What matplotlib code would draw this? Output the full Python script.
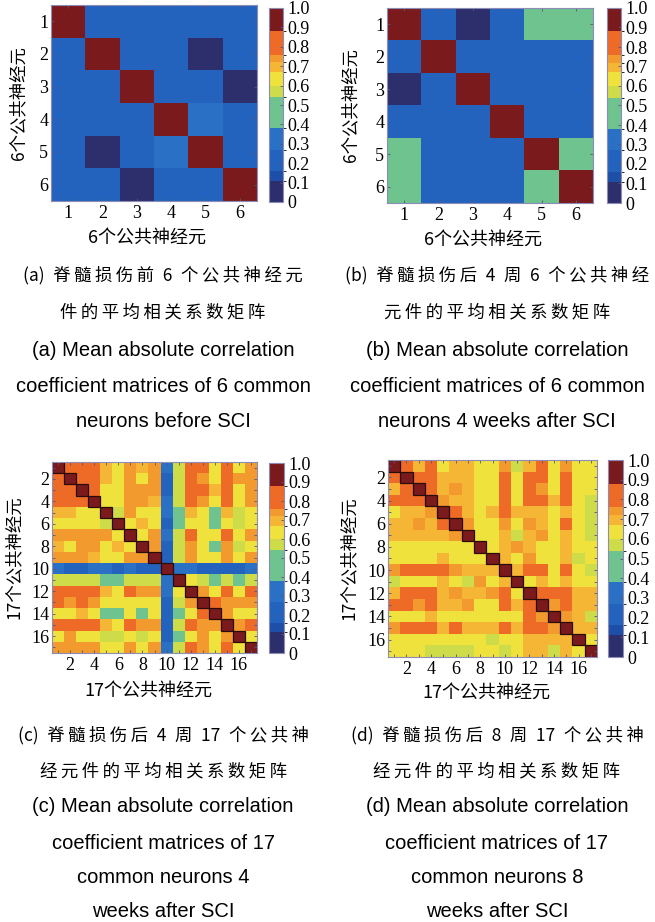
import matplotlib
matplotlib.use('Agg')
import matplotlib.pyplot as plt
import numpy as np
from matplotlib.colors import ListedColormap, BoundaryNorm
from matplotlib.patches import Rectangle
from matplotlib import font_manager

# 色阶 (MATLAB jet 风格的分段色条)
bounds = [0, 0.11, 0.16, 0.27, 0.38, 0.54, 0.60, 0.67, 0.72, 0.76, 0.88, 1.0]
colors = ['#2c2f6c', '#1d4fa8', '#2463bd', '#2a70c4', '#6ec38e', '#cfdc4a',
          '#efe23c', '#f5b535', '#f39a2e', '#ee6a27', '#7b1a1c']
cbar_ticks = [0, 0.1, 0.2, 0.3, 0.4, 0.5, 0.6, 0.7, 0.8, 0.9, 1.0]
cbar_labels = ['0', '0.1', '0.2', '0.3', '0.4', '0.5', '0.6', '0.7', '0.8', '0.9', '1.0']

# (a) 损伤前 6 个神经元
mat_a = [
    [1.0, 0.2, 0.2, 0.2, 0.2, 0.2],
    [0.2, 1.0, 0.2, 0.2, 0.05, 0.2],
    [0.2, 0.2, 1.0, 0.2, 0.2, 0.05],
    [0.2, 0.2, 0.2, 1.0, 0.32, 0.2],
    [0.2, 0.05, 0.2, 0.32, 1.0, 0.2],
    [0.2, 0.2, 0.05, 0.2, 0.2, 1.0],
]

# (b) 损伤后 4 周 6 个神经元
mat_b = [
    [1.0, 0.2, 0.05, 0.2, 0.46, 0.46],
    [0.2, 1.0, 0.2, 0.2, 0.2, 0.2],
    [0.05, 0.2, 1.0, 0.2, 0.2, 0.2],
    [0.2, 0.2, 0.2, 1.0, 0.2, 0.2],
    [0.46, 0.2, 0.2, 0.2, 1.0, 0.46],
    [0.46, 0.2, 0.2, 0.2, 0.46, 1.0],
]

# (c) 损伤后 4 周 17 个神经元
mat_c = [
    [1.0, .82, .82, .82, .70, .64, .74, .70, .74, .30, .57, .82, .82, .64, .82, .64, .74],
    [.82, 1.0, .82, .82, .70, .64, .74, .64, .74, .20, .57, .82, .74, .64, .82, .74, .74],
    [.82, .82, 1.0, .82, .64, .64, .74, .74, .74, .20, .57, .82, .82, .70, .82, .64, .74],
    [.82, .82, .82, 1.0, .64, .64, .74, .74, .70, .30, .57, .82, .74, .64, .82, .64, .74],
    [.70, .70, .64, .64, 1.0, .57, .74, .64, .64, .30, .46, .70, .64, .46, .70, .57, .64],
    [.64, .64, .64, .64, .57, 1.0, .64, .70, .64, .20, .46, .64, .64, .46, .64, .57, .64],
    [.74, .74, .74, .74, .74, .64, 1.0, .64, .74, .30, .57, .82, .64, .64, .82, .64, .74],
    [.70, .64, .74, .74, .64, .70, .64, 1.0, .74, .20, .57, .74, .64, .46, .74, .57, .64],
    [.74, .74, .74, .70, .64, .64, .74, .74, 1.0, .20, .57, .74, .64, .64, .74, .64, .74],
    [.30, .20, .20, .30, .30, .20, .30, .20, .20, 1.0, .30, .30, .20, .20, .20, .20, .30],
    [.57, .57, .57, .57, .46, .46, .57, .57, .57, .30, 1.0, .64, .57, .46, .57, .46, .57],
    [.82, .82, .82, .82, .70, .64, .82, .74, .74, .30, .64, 1.0, .74, .64, .82, .64, .82],
    [.82, .74, .82, .74, .64, .64, .64, .64, .64, .20, .57, .74, 1.0, .82, .74, .74, .74],
    [.64, .64, .70, .64, .46, .46, .64, .46, .64, .20, .46, .64, .82, 1.0, .74, .64, .64],
    [.82, .82, .82, .82, .70, .64, .82, .74, .74, .20, .57, .82, .74, .74, 1.0, .74, .82],
    [.64, .74, .64, .64, .57, .57, .64, .57, .64, .20, .46, .64, .74, .64, .74, 1.0, .64],
    [.74, .74, .74, .74, .64, .64, .74, .64, .74, .30, .57, .82, .74, .64, .82, .64, 1.0],
]

# (d) 损伤后 8 周 17 个神经元
mat_d = [
    [1.0, .82, .70, .82, .64, .70, .70, .64, .64, .74, .57, .70, .82, .64, .74, .64, .64],
    [.82, 1.0, .82, .82, .70, .70, .70, .64, .64, .82, .64, .82, .82, .64, .82, .64, .64],
    [.70, .82, 1.0, .82, .70, .74, .70, .64, .64, .82, .64, .82, .74, .64, .82, .64, .64],
    [.82, .82, .82, 1.0, .74, .70, .70, .64, .64, .82, .64, .82, .82, .70, .82, .64, .57],
    [.64, .70, .70, .74, 1.0, .82, .70, .64, .70, .82, .70, .70, .70, .64, .70, .64, .57],
    [.70, .70, .74, .70, .82, 1.0, .74, .64, .64, .74, .64, .74, .70, .64, .82, .64, .57],
    [.70, .70, .70, .70, .70, .74, 1.0, .64, .64, .70, .57, .70, .74, .64, .70, .64, .57],
    [.64, .64, .64, .64, .64, .64, .64, 1.0, .64, .70, .74, .70, .64, .64, .70, .64, .64],
    [.64, .64, .64, .64, .70, .64, .64, .64, 1.0, .70, .64, .74, .64, .64, .70, .57, .64],
    [.74, .82, .82, .82, .82, .74, .70, .70, .70, 1.0, .70, .82, .82, .64, .82, .64, .57],
    [.57, .64, .64, .64, .70, .64, .57, .74, .64, .70, 1.0, .64, .70, .64, .70, .64, .64],
    [.70, .82, .82, .82, .70, .74, .70, .70, .74, .82, .64, 1.0, .82, .82, .82, .70, .70],
    [.82, .82, .74, .82, .70, .70, .74, .64, .64, .82, .70, .82, 1.0, .74, .82, .70, .70],
    [.64, .64, .64, .70, .64, .64, .64, .64, .64, .64, .64, .82, .74, 1.0, .74, .70, .57],
    [.74, .82, .82, .82, .70, .82, .70, .70, .70, .82, .70, .82, .82, .74, 1.0, .70, .70],
    [.64, .64, .64, .64, .64, .64, .64, .64, .57, .64, .64, .70, .70, .70, .70, 1.0, .64],
    [.64, .64, .64, .57, .57, .57, .57, .64, .64, .57, .64, .70, .70, .57, .70, .64, 1.0],
]

xlabel_6 = '6个公共神经元'
xlabel_17 = '17个公共神经元'

cap_a = ['(a) 脊髓损伤前 6 个公共神经元', '件的平均相关系数矩阵',
         '(a) Mean absolute correlation', 'coefficient matrices of 6 common',
         'neurons before SCI']
cap_b = ['(b) 脊髓损伤后 4 周 6 个公共神经', '元件的平均相关系数矩阵',
         '(b) Mean absolute correlation', 'coefficient matrices of 6 common',
         'neurons 4 weeks after SCI']
cap_c = ['(c) 脊髓损伤后 4 周 17 个公共神', '经元件的平均相关系数矩阵',
         '(c) Mean absolute correlation', 'coefficient matrices of 17',
         'common neurons 4', 'weeks after SCI']
cap_d = ['(d) 脊髓损伤后 8 周 17 个公共神', '经元件的平均相关系数矩阵',
         '(d) Mean absolute correlation', 'coefficient matrices of 17',
         'common neurons 8', 'weeks after SCI']

cmap = ListedColormap(colors)
norm = BoundaryNorm(bounds, cmap.N)

names = {f.name for f in font_manager.fontManager.ttflist}
en_font = 'Liberation Sans Narrow' if 'Liberation Sans Narrow' in names else 'Liberation Sans'
en_size = 16.5 if en_font == 'Liberation Sans Narrow' else 14.5
cjk = ['Noto Sans CJK SC', 'DejaVu Sans']
serif = 'Liberation Serif'
frame = '#8c8cb4'

W, H = 655, 922
fig = plt.figure(figsize=(W / 100, H / 100), dpi=100)


def box(x0, y0, x1, y1):
    # 像素坐标 -> figure 坐标
    return [x0 / W, 1 - y1 / H, (x1 - x0) / W, (y1 - y0) / H]


def heat(mat, ax_box, cb_box, label_every, ylab_x, xlab_y, label):
    m = np.array(mat)
    n = m.shape[0]
    ax = fig.add_axes(box(*ax_box))
    edges = np.arange(n + 1) + 0.5
    im = ax.pcolormesh(edges, edges, m, cmap=cmap, norm=norm)
    if n > 6:
        for i in range(n):
            ax.add_patch(Rectangle((i + 0.5, i + 0.5), 1, 1, fill=False,
                                   ec='#2a0c0c', lw=0.9))
    ax.set_xlim(0.5, n + 0.5)
    ax.set_ylim(n + 0.5, 0.5)
    ticks = np.arange(1, n + 1)
    labs = [str(t) if t % label_every == 0 else '' for t in ticks]
    ax.set_xticks(ticks)
    ax.set_yticks(ticks)
    ax.set_xticklabels(labs, fontfamily=serif, fontsize=13)
    ax.set_yticklabels(labs, fontfamily=serif, fontsize=13)
    ax.tick_params(direction='in', length=2.5, width=0.6, color='#555577',
                   top=True, right=True, pad=3)
    ax.tick_params(axis='y', pad=2)
    for s in ax.spines.values():
        s.set_color(frame)
        s.set_linewidth(0.8)
    x0, y0, x1, y1 = ax_box
    fig.text(ylab_x / W, 1 - (y0 + y1) / 2 / H, label, rotation=90,
             ha='center', va='center', family=cjk, fontsize=12.5)
    fig.text((x0 + x1) / 2 / W - 0.01, 1 - xlab_y / H, label,
             ha='center', va='center', family=cjk, fontsize=13)

    cax = fig.add_axes(box(*cb_box))
    cb = fig.colorbar(im, cax=cax, ticks=cbar_ticks, spacing='proportional')
    cb.ax.set_yticklabels(cbar_labels, fontfamily=serif, fontsize=13)
    cb.ax.tick_params(direction='in', length=2.5, width=0.6, color='#555577', pad=3)
    cb.outline.set_edgecolor(frame)
    cb.outline.set_linewidth(0.8)


def is_cjk(ch):
    return ord(ch) > 0x2e80


def spaced(s):
    # 中文字之间加细空格，普通空格换成半角宽空格
    out = ''
    for i, ch in enumerate(s):
        out += '\u2002' if ch == ' ' else ch
        if i + 1 < len(s) and is_cjk(ch) and is_cjk(s[i + 1]):
            out += '\u2009'
    return out


def caption(lines, cx, ys):
    for i, (t, y) in enumerate(zip(lines, ys)):
        if i < 2:
            fig.text(cx / W, 1 - y / H, spaced(t), ha='center', va='center',
                     family=cjk, fontsize=12.5)
        else:
            fig.text(cx / W, 1 - y / H, t, ha='center', va='center',
                     family=en_font, fontsize=en_size)


heat(mat_a, (51, 5, 257, 201), (269, 8, 283, 202), 1, 18, 238, xlabel_6)
heat(mat_b, (387, 8, 593, 203), (607, 8, 621, 203), 1, 350, 240, xlabel_6)
heat(mat_c, (52, 462, 257, 653), (269, 463, 284, 653), 2, 14, 691, xlabel_17)
heat(mat_d, (388, 460, 597, 657), (608, 460, 623, 657), 2, 349, 693, xlabel_17)

top_ys = [275, 312, 350, 386, 421]
bot_ys = [735, 771, 806, 843, 877, 911]
caption(cap_a, 163, top_ys)
caption(cap_b, 497, top_ys)
caption(cap_c, 163, bot_ys)
caption(cap_d, 497, bot_ys)

fig.savefig('out.png', dpi=100)
